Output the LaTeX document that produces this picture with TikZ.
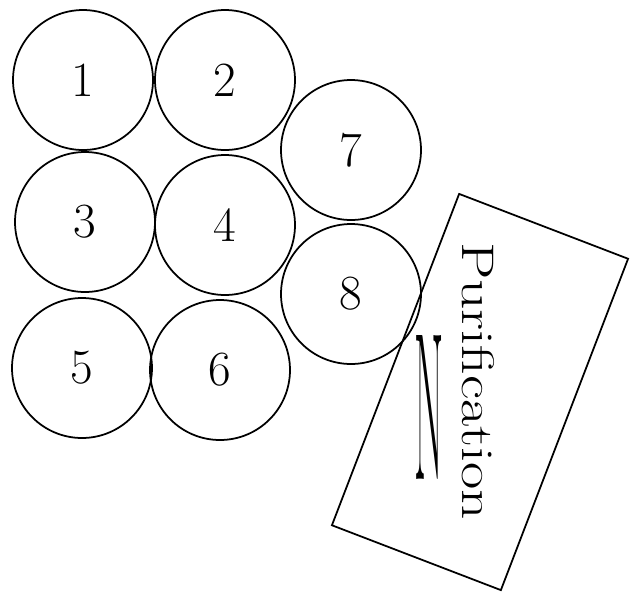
\documentclass[tikz,border=0pt]{standalone}
\usepackage{tikz}
\usetikzlibrary{positioning}
\tikzset{
  tank/.style={draw, circle, line width=1pt, minimum size=2.8cm, inner sep=0pt,
    font=\fontsize{28}{30}\selectfont},
  unitbox/.style={draw, line width=1pt, rectangle, minimum width=3.62cm, minimum height=7.1cm},
}
\begin{document}
\begin{tikzpicture}[x=0.02cm, y=-0.02cm]
  \useasboundingbox (0,0) rectangle (639,593);
  % tanks, left column
  \node[tank] (t1) at (83,80) {1};
  \node[tank] (t3) at (85,222) {3};
  \node[tank] (t5) at (82,368) {5};
  % tanks, middle column
  \node[tank] (t2) at (225,80) {2};
  \node[tank] (t4) at (225,225) {4};
  \node[tank] (t6) at (220,370) {6};
  % tanks, right column
  \node[tank] (t7) at (351,150) {7};
  \node[tank] (t8) at (351,294) {8};

  % purification unit
  \node[unitbox, rotate=-21] (pur) at (480,392) {};
  \node[rotate=-90, xscale=1.3, font=\fontsize{26}{28}\selectfont] (purtxt) at (478,381)
    {Purification};
  \node[xscale=0.2, font=\fontsize{120}{120}\selectfont] (ntxt) at (429,407) {N};
\end{tikzpicture}
\end{document}
